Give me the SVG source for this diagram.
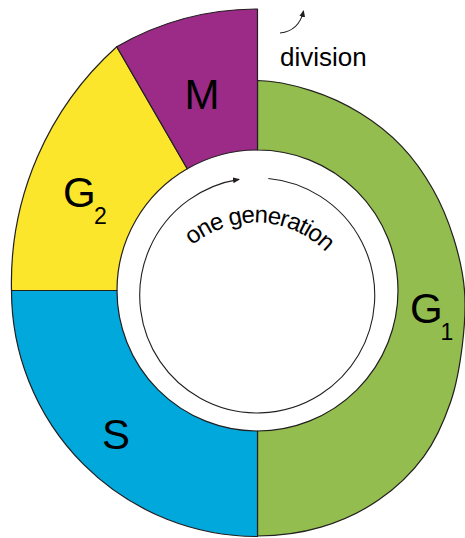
<svg xmlns="http://www.w3.org/2000/svg" width="465" height="538" viewBox="0 0 465 538">
  <style>
    .phase { stroke: #231f20; stroke-width: 1.2; stroke-linejoin: round; }
    .lbl { font-family: "Liberation Sans", Arial, sans-serif; fill: #000; }
    .big { font-size: 42px; }
    .sub { font-size: 23px; }
    .thin { fill: none; stroke: #231f20; stroke-width: 1.1; }
  </style>
  <defs>
    <marker id="tip" markerUnits="userSpaceOnUse" markerWidth="8" markerHeight="7" refX="6" refY="3" orient="auto">
      <path d="M0,0 L7,3 L0,6 Z" fill="#231f20"/>
    </marker>
    <!-- baseline for the curved caption -->
    <path id="capArc" d="M164.6,283.1 A98.5,98.5 0 0 1 349.5,291.6"/>
  </defs>

  <!-- G1: outer edge widens from the top towards the bottom -->
  <g id="g1">
    <path class="phase" fill="#93bd4e" d="M257.5,80.5
      C275.4,80.5 294,85.2 311.1,90.6
      C328.2,96 344.9,103.7 360,113
      C375.1,122.3 389.6,133.6 401.7,146.3
      C413.9,159 424.3,174 432.9,189.3
      C441.6,204.6 448.3,221.1 453.6,238
      C458.9,254.9 463.1,272.6 464.5,290.5
      C465.9,308.4 464.6,326.8 462.3,345.4
      C460,364 457,383.5 450.6,402
      C444.2,420.6 435.7,440.4 423.7,456.7
      C411.7,473.1 395.6,488.4 378.5,500.1
      C361.4,511.9 341.1,521.2 320.9,527.2
      C300.7,533.2 278.6,536 257.5,536
      L257.5,431 A140.5,140.5 0 0 0 257.5,150 Z"/>
    <text class="lbl big" x="410" y="323">G</text>
    <text class="lbl sub" x="440.5" y="340">1</text>
  </g>

  <!-- S -->
  <g id="s">
    <path class="phase" fill="#00a8dc" d="M11.5,290.5 A246,246 0 0 0 257.5,536.5 L257.5,431 A140.5,140.5 0 0 1 117,290.5 Z"/>
    <text class="lbl big" x="116" y="449" text-anchor="middle">S</text>
  </g>

  <!-- G2 -->
  <g id="g2">
    <path class="phase" fill="#fbe62b" d="M116.75,46.7 A316.7,316.7 0 0 0 11.5,290.5 L117,290.5 A140.5,140.5 0 0 1 187.25,168.8 Z"/>
    <text class="lbl big" x="63" y="207">G</text>
    <text class="lbl sub" x="94" y="224">2</text>
  </g>

  <!-- M -->
  <g id="m">
    <path class="phase" fill="#9c2a87" d="M116.75,46.7 A281.5,281.5 0 0 1 257.5,9 L257.5,150 A140.5,140.5 0 0 0 187.25,168.8 Z"/>
    <text class="lbl big" x="202" y="109" text-anchor="middle">M</text>
  </g>

  <!-- division label -->
  <g id="division">
    <text class="lbl" x="280" y="66" font-size="26px">division</text>
  </g>

  <!-- one generation caption -->
  <g id="generation">
    <text class="lbl" font-size="24px" letter-spacing="-1">
      <textPath href="#capArc" startOffset="50%" text-anchor="middle">one generation</textPath>
    </text>
  </g>

  <!-- connectors -->
  <g id="connectors">
    <path class="thin" d="M268.3,178.5 A117.5,117.5 0 1 1 239,179.4" marker-end="url(#tip)"/>
    <path class="thin" d="M280,33 Q299,31 303.5,11" marker-end="url(#tip)"/>
  </g>
</svg>
